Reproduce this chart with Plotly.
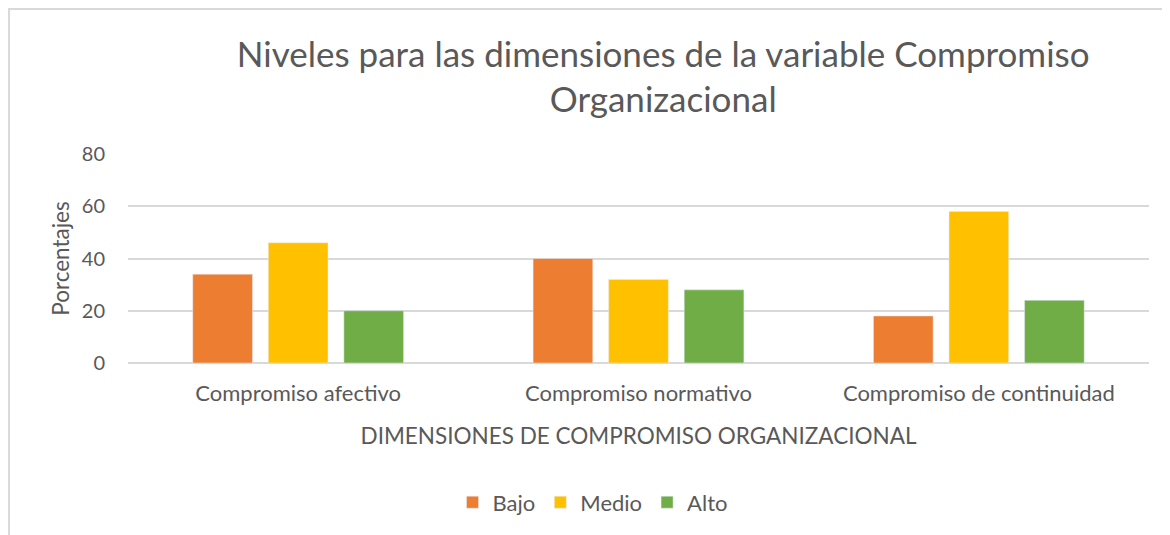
import plotly.graph_objects as go

# data
dimensiones = ["Compromiso afectivo", "Compromiso normativo", "Compromiso de continuidad"]
bajo = [34, 40, 18]
medio = [46, 32, 58]
alto = [20, 28, 24]

gris = "#595959"
fuente = "Lato, Carlito, Calibri, sans-serif"

fig = go.Figure()
fig.add_trace(go.Bar(name="Bajo", x=dimensiones, y=bajo, marker_color="#ED7D31"))
fig.add_trace(go.Bar(name="Medio", x=dimensiones, y=medio, marker_color="#FFC000"))
fig.add_trace(go.Bar(name="Alto", x=dimensiones, y=alto, marker_color="#70AD47"))

fig.update_layout(
    width=1170, height=535,
    paper_bgcolor="white", plot_bgcolor="white",
    margin=dict(l=120, r=29, t=146, b=180, autoexpand=False),
    barmode="group", bargap=0.334, bargroupgap=0.21,
    font=dict(family=fuente, color=gris, size=21),
    title=dict(text="Niveles para las dimensiones de la variable Compromiso<br>Organizacional",
               x=0.56, xanchor="center", y=0.89, yanchor="middle",
               font=dict(size=35, color=gris)),
    legend=dict(orientation="h", x=0.455, xanchor="center", y=-0.667, yanchor="middle",
                font=dict(size=22), itemwidth=30, traceorder="normal"),
    showlegend=True,
)

fig.update_xaxes(title=dict(text="DIMENSIONES DE COMPROMISO ORGANIZACIONAL", font=dict(size=22.5), standoff=23),
                 showline=False, ticks="", tickfont=dict(size=22), ticklabelstandoff=15,
                 automargin=False)
fig.update_yaxes(title=dict(text="Porcentajes", font=dict(size=22.5), standoff=5),
                 range=[0, 80], dtick=20, showgrid=True, gridcolor="#d9d9d9", gridwidth=1.5,
                 zeroline=True, zerolinecolor="#d9d9d9", zerolinewidth=1.5,
                 ticks="", tickfont=dict(size=20), ticklabelstandoff=22, automargin=False)

# chart frame like the Excel chart area border
fig.add_shape(type="rect", xref="paper", yref="paper",
              x0=-0.1165, x1=1.05, y0=-0.9, y1=1.694,
              line=dict(color="#d9d9d9", width=2), layer="below")

fig.write_html("out.html")
